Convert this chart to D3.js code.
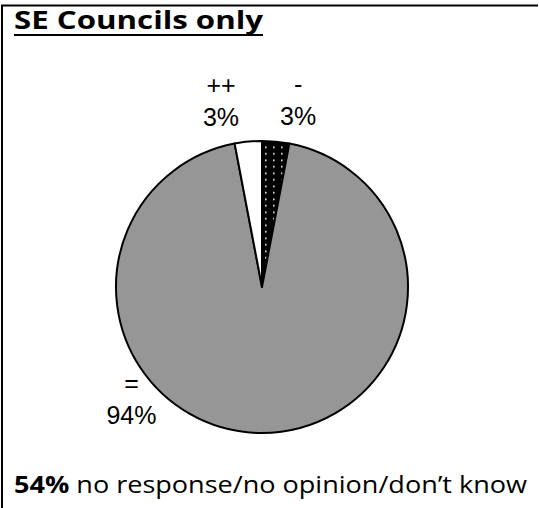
<!DOCTYPE html>
<html><head><meta charset="utf-8">
<script src="https://cdn.jsdelivr.net/npm/d3@7"></script>
<style>html,body{margin:0;padding:0;background:#fff}</style>
</head><body>
<script>
// Data
const categories = ["-", "=", "++"];
const values = [3, 94, 3];
const valueLabels = ["3%", "94%", "3%"];
const title = "SE Councils only";
const footnoteBold = "54%";
const footnoteText = " no response/no opinion/don\u2019t know";

// Layout
const W = 539, H = 508;
const cx = 262, cy = 287, R = 146;
const labelAngleDeg = [11, 229, -12.5]; // label placement angles (clockwise from top)
const labelRadius = [189.5, 173, 189.5];

const svg = d3.select("body").append("svg").attr("width", W).attr("height", H);

const defs = svg.append("defs");
const pat = defs.append("pattern").attr("id", "dots").attr("patternUnits", "userSpaceOnUse")
  .attr("width", 8).attr("height", 6.5);
pat.append("rect").attr("width", 8).attr("height", 6.5).attr("fill", "#000");
pat.append("rect").attr("x", 3).attr("y", 2.5).attr("width", 1.6).attr("height", 1.6).attr("fill", "#fff");

const fills = ["url(#dots)", "#969696", "#ffffff"];

// frame (top and left edges)
svg.append("line").attr("x1", 1).attr("x2", 538).attr("y1", 5.5).attr("y2", 5.5).attr("stroke", "#000").attr("stroke-width", 2);
svg.append("line").attr("x1", 2).attr("x2", 2).attr("y1", 5).attr("y2", H).attr("stroke", "#000").attr("stroke-width", 2);

// title
const t = svg.append("text").attr("x", 14).attr("y", 28.5)
  .attr("font-family", "'Open Sans', Lato, sans-serif").attr("font-weight", "bold")
  .attr("font-size", 25.5).attr("fill", "#000")
  .attr("textLength", 249).attr("lengthAdjust", "spacingAndGlyphs").text(title);
svg.append("rect").attr("x", 14).attr("y", 34).attr("width", 249).attr("height", 2).attr("fill", "#000");

// pie
const pie = d3.pie().sort(null).value(d => d)(values);
const arc = d3.arc().innerRadius(0).outerRadius(R);
const g = svg.append("g").attr("transform", `translate(${cx},${cy})`);
g.selectAll("path").data(pie).join("path")
  .attr("d", arc)
  .attr("fill", (d, i) => fills[i])
  .attr("stroke", "#000").attr("stroke-width", 2).attr("stroke-linejoin", "round");

// labels
const lab = g.selectAll("g.lab").data(pie).join("g").attr("class", "lab")
  .attr("transform", (d, i) => {
    const a = labelAngleDeg[i] * Math.PI / 180;
    return `translate(${labelRadius[i] * Math.sin(a)},${-labelRadius[i] * Math.cos(a)})`;
  });
lab.append("text").attr("text-anchor", "middle").attr("y", -8)
  .attr("font-family", "'Liberation Sans', Arial, sans-serif").attr("font-size", 25)
  .text((d, i) => categories[i]);
lab.append("text").attr("text-anchor", "middle").attr("y", 24)
  .attr("font-family", "'Liberation Sans', Arial, sans-serif").attr("font-size", 25)
  .text((d, i) => valueLabels[i]);

// footnote
const f = svg.append("text").attr("x", 14).attr("y", 493)
  .attr("font-family", "'Open Sans', Lato, sans-serif").attr("font-size", 24).attr("fill", "#000")
  .attr("textLength", 513).attr("lengthAdjust", "spacingAndGlyphs");
f.append("tspan").attr("font-weight", "bold").text(footnoteBold);
f.append("tspan").text(footnoteText);
</script>
</body></html>
